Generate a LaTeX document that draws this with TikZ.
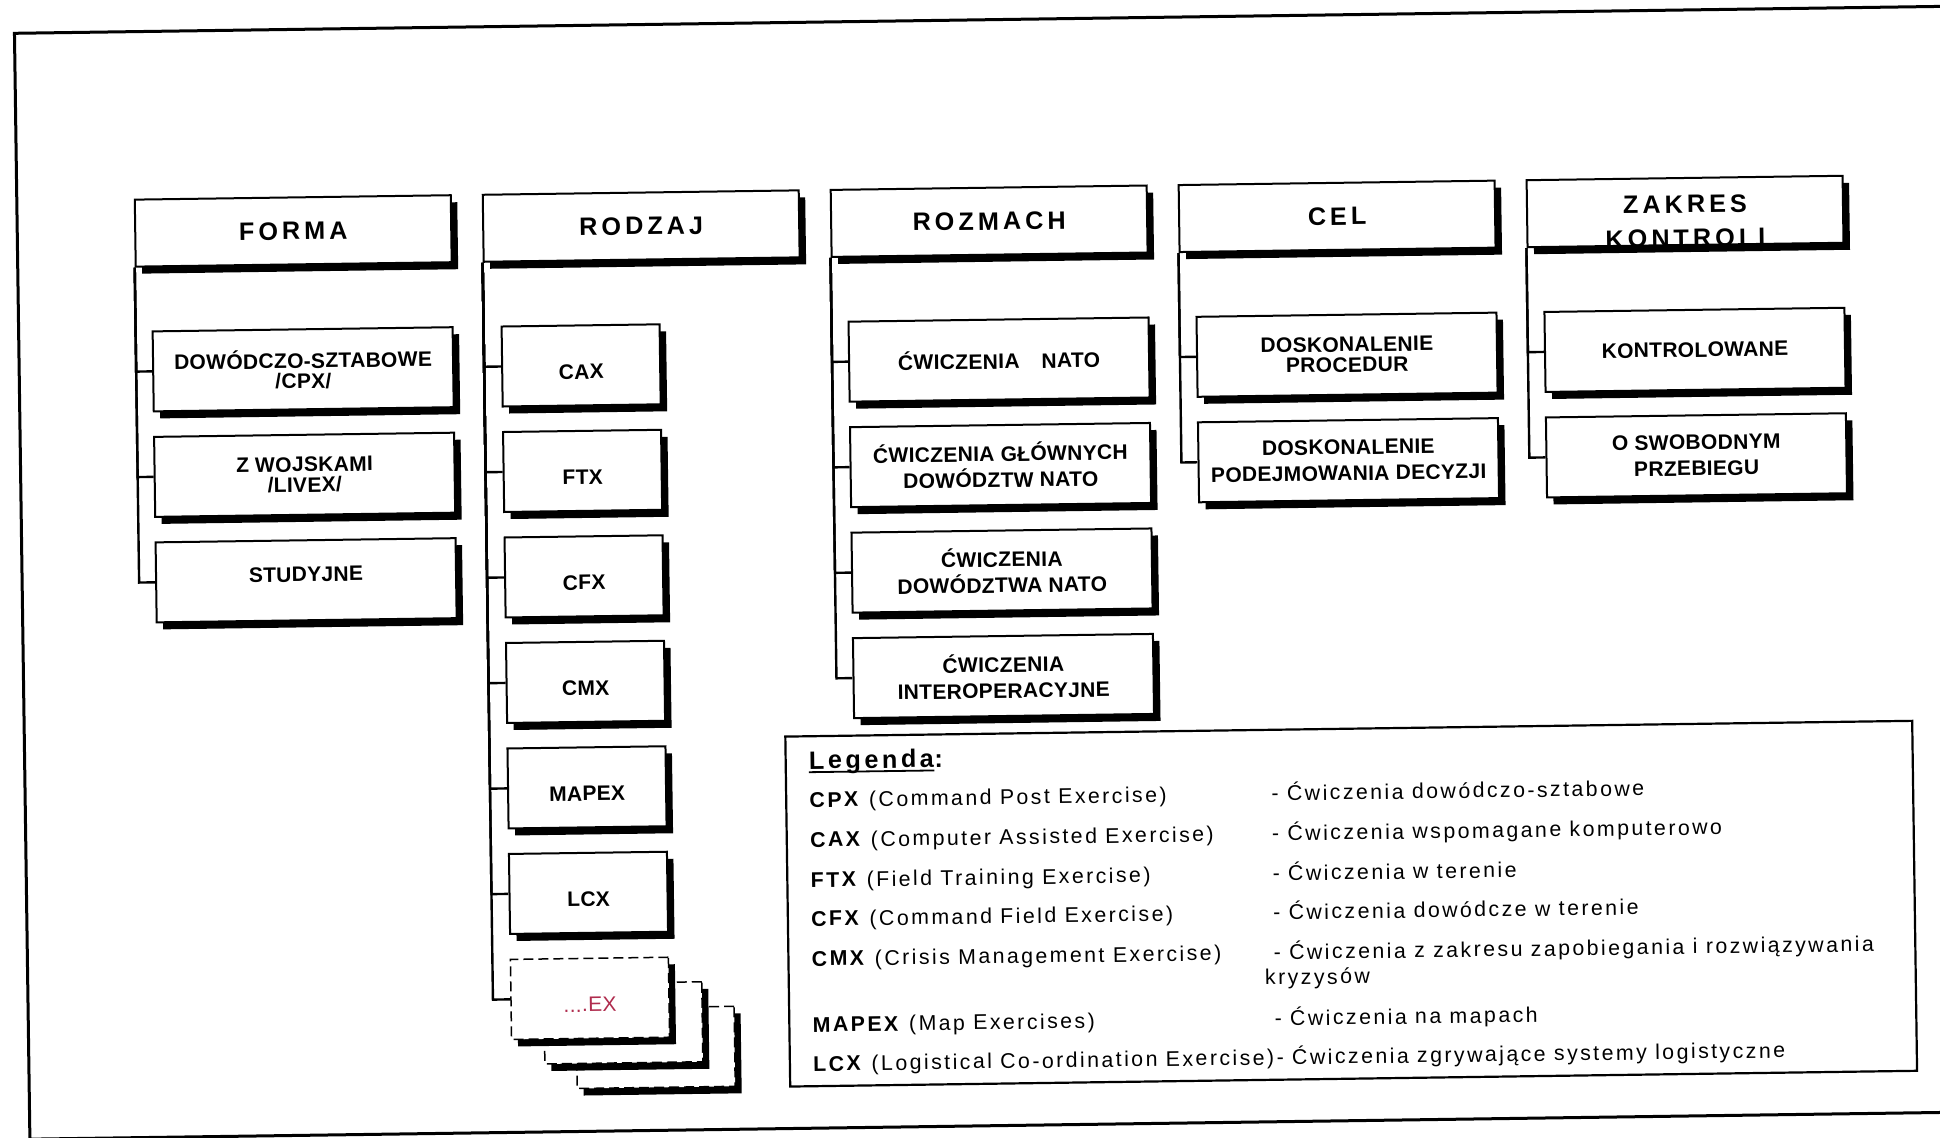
\documentclass[tikz,border=0pt]{standalone}
\usepackage{fontspec}
\setmainfont{Liberation Sans}
\newfontfamily\hdrfont[LetterSpace=16]{Liberation Sans}
\newfontfamily\boxfont[LetterSpace=1.5]{Liberation Sans}
\newfontfamily\legfont[LetterSpace=11.5]{Liberation Sans}
\newfontfamily\leghdfont[LetterSpace=14]{Liberation Sans}
\usetikzlibrary{shadows}
\definecolor{exred}{RGB}{176,44,78}

\tikzset{
  blackshadow/.style={drop shadow={shadow xshift=3.25pt, shadow yshift=-3.5pt, fill=black, opacity=1}},
  hdr/.style={draw, line width=1pt, fill=white, blackshadow, inner sep=0pt,
    minimum width=158pt, minimum height=33.5pt, align=center,
    font=\hdrfont\bfseries\fontsize{12.6}{17}\selectfont},
  hdrlabel/.style={inner sep=0pt, align=center,
    font=\hdrfont\bfseries\fontsize{12.6}{17}\selectfont},
  item/.style={draw, line width=1pt, fill=white, blackshadow, inner sep=0pt,
    minimum width=150pt, minimum height=40pt, align=center,
    font=\boxfont\bfseries\fontsize{10.5}{13}\selectfont},
  tight/.style={font=\boxfont\bfseries\fontsize{10.5}{10.2}\selectfont},
  kind/.style={item, minimum width=79pt, text height=13.5pt, text depth=0pt},
  exbox/.style={kind, dash pattern=on 5pt off 2.5pt, line width=0.75pt,
    font=\boxfont\fontsize{10.5}{13}\selectfont, text=exred},
  tree/.style={line width=1.2pt},
  legtext/.style={inner sep=0pt, anchor=base west, font=\legfont\fontsize{10.65}{13}\selectfont},
  leghead/.style={inner sep=0pt, anchor=base west, font=\leghdfont\bfseries\fontsize{12.6}{15}\selectfont},
}

\begin{document}
\begin{tikzpicture}[x=0.5pt, y=-0.5pt]
\useasboundingbox (0,0) rectangle (1940,1138);
\fill[white] (0,0) rectangle (1940,1138);
\clip (0,0) rectangle (1940,1138);

\begin{scope}[rotate around={0.8:(970,569)}, transform shape]

% page frame
\draw[line width=1.5pt] (2100,20) -- (22,20) -- (22,1126) -- (2100,1126);

% column headers
\node[hdr] (h1) at (298,221.5) {FORMA};
\node[hdr] (h2) at (646,221.5) {RODZAJ};
\node[hdr] (h3) at (994,221.5) {ROZMACH};
\node[hdr] (h4) at (1342,221.5) {CEL};
\node[hdr] (h5) at (1690,221.5) {};
\node[hdrlabel, anchor=north] (h5t) at (1690,205) {ZAKRES\\KONTROLI};

% FORMA
\node[item, tight] (f1) at (306,360) {DOWÓDCZO-SZTABOWE\\/CPX/};
\node[item, tight] (f2) at (306,465.5) {Z WOJSKAMI\\/LIVEX/};
\node[item, text depth=6pt] (f3) at (306,571) {STUDYJNE};

% RODZAJ
\node[kind] (k1) at (584,360) {CAX};
\node[kind] (k2) at (584,465.5) {FTX};
\node[kind] (k3) at (584,571) {CFX};
\node[kind] (k4) at (584,676.5) {CMX};
\node[kind] (k5) at (584,782) {MAPEX};
\node[kind] (k6) at (584,887.5) {LCX};
\node[exbox] (k9) at (649,1043) {};
\node[exbox] (k8) at (617,1018) {};
\node[exbox] (k7) at (584,993) {....EX};

% ROZMACH
\node[item] (r1) at (1002,360) {ĆWICZENIA\hspace{11pt}NATO};
\node[item] (r2) at (1002,465.5) {ĆWICZENIA GŁÓWNYCH\\DOWÓDZTW NATO};
\node[item] (r3) at (1002,571) {ĆWICZENIA\\DOWÓDZTWA NATO};
\node[item] (r4) at (1002,676.5) {ĆWICZENIA\\INTEROPERACYJNE};

% CEL
\node[item, tight] (c1) at (1350,360) {DOSKONALENIE\\PROCEDUR};
\node[item] (c2) at (1350,465.5) {DOSKONALENIE\\PODEJMOWANIA DECYZJI};

% ZAKRES KONTROLI
\node[item] (z1) at (1698,360) {KONTROLOWANE};
\node[item] (z2) at (1698,465.5) {O SWOBODNYM\\PRZEBIEGU};

% tree connectors
\foreach \c in {f1,f2,f3} \draw[tree] (h1.south west) |- (\c.west);
\foreach \c in {k1,k2,k3,k4,k5,k6,k7} \draw[tree] (h2.south west) |- (\c.west);
\foreach \c in {r1,r2,r3,r4} \draw[tree] (h3.south west) |- (\c.west);
\foreach \c in {c1,c2} \draw[tree] (h4.south west) |- (\c.west);
\foreach \c in {z1,z2} \draw[tree] (h5.south west) |- (\c.west);

% legend
\node[draw, line width=1.1pt, minimum width=563.5pt, minimum height=175pt, inner sep=0pt]
  (leg) at (1346.5,909) {};
\node[leghead] (lg) at (806,767) {Legenda};
\node[leghead] (lgc) at (lg.base east) {:};
\draw[line width=0.9pt] ([yshift=-1.5pt]lg.base west) -- ([yshift=-1.5pt]lg.base east);

\node[legtext] (a1) at (806,805) {\textbf{CPX} (Command Post Exercise)};
\node[legtext] (a2) at (806,845) {\textbf{CAX} (Computer Assisted Exercise)};
\node[legtext] (a3) at (806,885) {\textbf{FTX} (Field Training Exercise)};
\node[legtext] (a4) at (806,924) {\textbf{CFX} (Command Field Exercise)};
\node[legtext] (a5) at (806,964) {\textbf{CMX} (Crisis Management Exercise)};
\node[legtext] (a6) at (806,1030) {\textbf{MAPEX} (Map Exercises)};
\node[legtext] (a7) at (806,1069) {\textbf{LCX} (Logistical Co-ordination Exercise)- Ćwiczenia zgrywające systemy logistyczne};

\node[legtext] (b1) at (1268,805) {- Ćwiczenia dowódczo-sztabowe};
\node[legtext] (b2) at (1268,845) {- Ćwiczenia wspomagane komputerowo};
\node[legtext] (b3) at (1268,885) {- Ćwiczenia w terenie};
\node[legtext] (b4) at (1268,924) {- Ćwiczenia dowódcze w terenie};
\node[legtext] (b5) at (1268,964) {- Ćwiczenia z zakresu zapobiegania i rozwiązywania};
\node[legtext] (b5b) at (1259,989) {kryzysów};
\node[legtext] (b6) at (1268,1030) {- Ćwiczenia na mapach};

\end{scope}
\end{tikzpicture}
\end{document}
